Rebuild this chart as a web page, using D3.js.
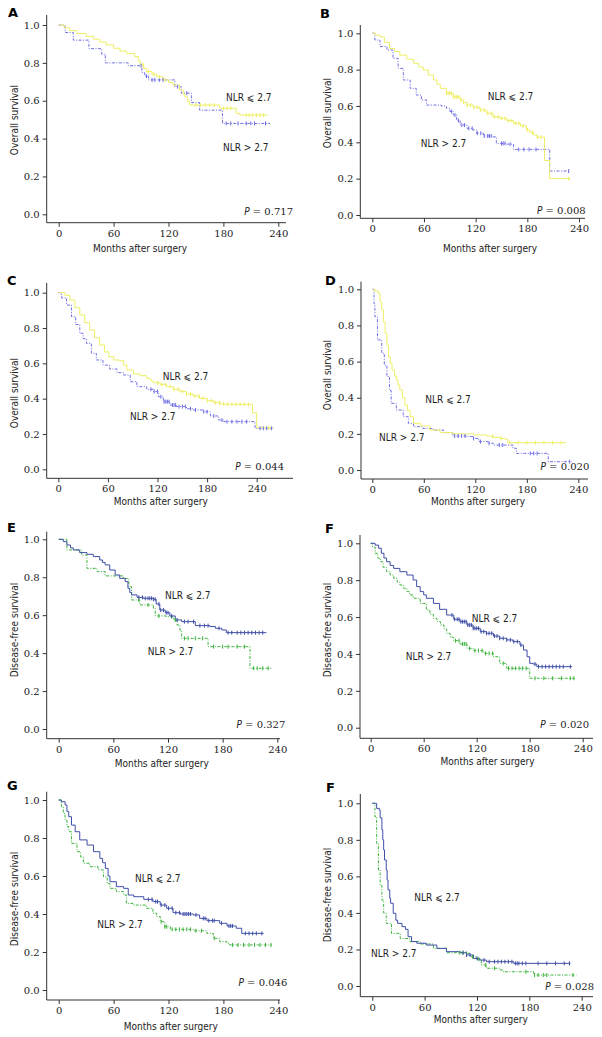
<!DOCTYPE html>
<html><head><meta charset="utf-8">
<script src="https://cdn.jsdelivr.net/npm/d3@7/dist/d3.min.js"></script>
<style>body{margin:0;background:#fff}svg{display:block}</style>
</head><body>
<script>
// ---------- DATA ----------
const xTicks = [0, 60, 120, 180, 240];
const yTicks = [0, 0.2, 0.4, 0.6, 0.8, 1.0];
const labelLow = "NLR \u2A7D 2.7";
const labelHigh = "NLR > 2.7";
const panelLetters = ["A", "B", "C", "D", "E", "F", "G", "F"];
const yTitles = ["Overall survival", "Overall survival", "Overall survival", "Overall survival",
  "Disease-free survival", "Disease-free survival", "Disease-free survival", "Disease-free survival"];
const xTitle = "Months after surgery";
const pValues = ["0.717", "0.008", "0.044", "0.020", "0.327", "0.020", "0.046", "0.028"];

// [month, survival] steps ; censor months
const A_low = [[0,1],[6,0.985],[12,0.97],[20,0.955],[30,0.94],[38,0.925],[45,0.91],[52,0.895],[60,0.877],[67,0.862],[74,0.85],[83,0.833],[87,0.81],[89,0.79],[93,0.77],[96,0.754],[102,0.74],[107,0.727],[114,0.71],[120,0.697],[125,0.683],[132,0.657],[136,0.635],[138,0.62],[141,0.595],[143,0.577],[176,0.56],[194,0.533],[198,0.524],[228,0.524]];
const A_lowCens = [92,98,104,110,116,150,155,160,165,170,180,184,188,205,208,212,216,220,224];
const A_high = [[0,1],[7,0.96],[16,0.92],[33,0.875],[47,0.845],[51,0.8],[76,0.785],[91,0.75],[94,0.73],[98,0.71],[127,0.674],[134,0.64],[145,0.59],[154,0.55],[179,0.48],[231,0.48]];
const A_highCens = [90,96,102,105,110,114,130,140,183,188,196,205,210,214,226];

const B_low = [[0,1],[4,0.99],[9,0.98],[14,0.95],[20,0.917],[26,0.9],[32,0.88],[40,0.857],[48,0.835],[54,0.815],[59,0.798],[65,0.77],[71,0.743],[75,0.72],[79,0.697],[86,0.67],[94,0.65],[102,0.633],[106,0.62],[110,0.605],[117,0.593],[125,0.578],[133,0.56],[140,0.54],[148,0.532],[156,0.52],[164,0.505],[172,0.49],[179,0.468],[183,0.455],[187,0.44],[191,0.428],[200,0.3],[206,0.2],[230,0.2]];
const B_lowCens = [86,88,90,92,94,96,98,100,103,106,110,114,118,122,126,130,134,138,142,146,150,154,158,162,166,170,175,180,186,192,196,228];
const B_high = [[0,1],[3,0.963],[9,0.927],[17,0.908],[24,0.862],[30,0.807],[36,0.743],[44,0.697],[51,0.66],[57,0.633],[63,0.605],[80,0.6],[86,0.587],[90,0.57],[94,0.55],[98,0.52],[102,0.495],[110,0.477],[117,0.468],[121,0.45],[129,0.435],[140,0.43],[144,0.394],[156,0.39],[164,0.361],[206,0.242],[230,0.242]];
const B_highCens = [92,96,100,104,107,112,116,122,126,130,134,136,138,150,152,154,160,170,176,182,190,228];

const C_low = [[0,1],[8,0.985],[14,0.958],[20,0.915],[26,0.874],[32,0.83],[38,0.789],[44,0.745],[50,0.704],[56,0.665],[61,0.638],[67,0.619],[74,0.615],[79,0.59],[83,0.562],[91,0.54],[99,0.53],[107,0.515],[112,0.5],[115,0.49],[123,0.481],[131,0.468],[139,0.453],[147,0.44],[155,0.426],[163,0.415],[171,0.402],[180,0.389],[188,0.377],[196,0.37],[203,0.368],[235,0.32],[240,0.235],[260,0.235]];
const C_lowCens = [120,125,130,135,140,145,150,155,160,165,170,175,180,185,190,195,200,205,210,215,220,225,230,255];
const C_high = [[0,1],[4,0.97],[10,0.93],[16,0.864],[21,0.82],[26,0.77],[30,0.74],[34,0.713],[40,0.657],[46,0.619],[54,0.59],[62,0.568],[71,0.547],[79,0.534],[87,0.496],[95,0.468],[107,0.453],[115,0.44],[121,0.411],[127,0.383],[135,0.364],[143,0.355],[155,0.343],[163,0.336],[175,0.326],[184,0.302],[194,0.279],[200,0.27],[238,0.232],[260,0.232]];
const C_highCens = [112,116,120,124,128,130,132,134,138,140,142,146,150,154,160,166,176,180,188,198,204,210,216,222,228,244,248,252,258];

const D_low = [[0,1],[3,0.99],[7,0.978],[9,0.93],[11,0.886],[13,0.82],[15,0.756],[17,0.69],[19,0.627],[21,0.59],[23,0.553],[26,0.52],[28,0.498],[30,0.47],[32,0.443],[35,0.4],[38,0.36],[41,0.33],[44,0.295],[48,0.258],[56,0.244],[67,0.221],[79,0.207],[94,0.2],[118,0.194],[133,0.188],[141,0.181],[149,0.175],[155,0.17],[158,0.151],[226,0.151]];
const D_lowCens = [140,150,160,170,180,190,200,210,220];
const D_high = [[0,1],[2,0.92],[3,0.849],[6,0.72],[11,0.646],[14,0.58],[17,0.517],[20,0.44],[22,0.369],[28,0.332],[36,0.295],[42,0.258],[48,0.24],[59,0.23],[71,0.221],[83,0.207],[94,0.188],[110,0.185],[118,0.175],[124,0.157],[135,0.148],[141,0.138],[164,0.12],[168,0.092],[205,0.046],[232,0.046]];
const D_highCens = [96,100,104,108,118,126,136,148,152,184,188,192,230];

const E_low = [[0,1],[2,1],[5,0.988],[9,0.97],[13,0.955],[16,0.944],[23,0.93],[31,0.921],[38,0.909],[45,0.891],[48,0.878],[51,0.865],[56,0.838],[62,0.812],[67,0.794],[73,0.777],[76,0.742],[78,0.72],[80,0.707],[86,0.694],[93,0.689],[104,0.684],[107,0.659],[111,0.627],[117,0.613],[122,0.596],[128,0.575],[135,0.566],[150,0.545],[166,0.54],[172,0.531],[179,0.522],[184,0.508],[228,0.508]];
const E_lowCens = [88,92,95,98,100,102,104,106,110,112,115,118,120,124,130,138,142,148,155,160,164,176,186,190,196,200,204,208,212,216,220,224];
const E_high = [[0,1],[9,0.944],[25,0.917],[31,0.847],[42,0.83],[51,0.807],[71,0.794],[77,0.75],[80,0.68],[89,0.654],[104,0.636],[106,0.596],[118,0.592],[126,0.575],[130,0.548],[133,0.522],[135,0.478],[164,0.434],[210,0.32],[234,0.32]];
const E_highCens = [88,98,110,124,128,138,142,150,158,170,180,186,196,204,214,218,224,230];

const F_low = [[0,1],[5,0.99],[9,0.973],[12,0.946],[15,0.92],[18,0.9],[22,0.88],[26,0.864],[33,0.846],[41,0.828],[48,0.801],[52,0.765],[56,0.738],[60,0.72],[63,0.702],[71,0.674],[78,0.642],[86,0.611],[94,0.588],[101,0.575],[109,0.557],[116,0.539],[124,0.521],[131,0.512],[139,0.497],[146,0.485],[154,0.476],[161,0.467],[169,0.448],[173,0.421],[177,0.385],[180,0.349],[184,0.345],[188,0.331],[228,0.331]];
const F_lowCens = [92,95,98,100,102,104,106,108,110,112,114,116,118,120,122,125,128,131,134,137,140,143,146,150,154,158,162,166,170,186,190,194,198,202,206,210,214,218,226];
const F_high = [[0,1],[2,0.98],[5,0.946],[8,0.92],[11,0.9],[14,0.87],[18,0.846],[22,0.828],[26,0.81],[30,0.79],[33,0.774],[37,0.756],[41,0.738],[44,0.72],[48,0.702],[56,0.674],[63,0.638],[67,0.615],[71,0.593],[75,0.575],[79,0.557],[83,0.535],[86,0.512],[90,0.49],[94,0.472],[101,0.454],[109,0.43],[116,0.418],[128,0.403],[139,0.385],[146,0.349],[154,0.322],[180,0.268],[231,0.268]];
const F_highCens = [96,100,104,106,108,112,118,122,126,130,134,138,150,156,160,164,168,172,176,186,196,206,216,226,230];

const G_low = [[0,1],[3,0.991],[7,0.974],[9,0.94],[11,0.912],[14,0.868],[18,0.833],[23,0.79],[31,0.763],[38,0.728],[45,0.693],[48,0.67],[51,0.64],[54,0.6],[56,0.57],[63,0.544],[71,0.535],[76,0.5],[82,0.491],[93,0.477],[103,0.465],[111,0.447],[118,0.43],[125,0.407],[133,0.4],[147,0.395],[154,0.377],[162,0.365],[176,0.351],[184,0.337],[194,0.325],[200,0.298],[224,0.298]];
const G_lowCens = [98,102,106,108,112,116,120,124,128,132,136,138,140,142,144,150,158,160,164,168,170,178,186,188,190,204,208,212,216,222];
const G_high = [[0,1],[3,0.965],[5,0.93],[7,0.895],[9,0.86],[11,0.833],[14,0.772],[20,0.728],[24,0.7],[27,0.667],[34,0.649],[43,0.632],[49,0.596],[53,0.56],[56,0.535],[63,0.518],[71,0.5],[74,0.456],[82,0.447],[96,0.43],[103,0.404],[107,0.386],[111,0.36],[116,0.333],[122,0.319],[147,0.312],[162,0.298],[169,0.272],[176,0.254],[184,0.246],[187,0.237],[233,0.237]];
const G_highCens = [112,116,118,124,128,132,136,140,144,150,156,170,190,196,202,208,214,220,226,232];

const H_low = [[0,1],[1,1],[5,0.972],[8,0.963],[9,0.92],[11,0.854],[12,0.8],[13,0.745],[14,0.69],[16,0.635],[17,0.58],[18,0.526],[20,0.48],[21,0.453],[24,0.398],[27,0.36],[29,0.343],[34,0.325],[38,0.31],[41,0.27],[45,0.243],[51,0.234],[62,0.224],[74,0.206],[85,0.188],[101,0.182],[108,0.17],[116,0.151],[123,0.142],[131,0.133],[162,0.124],[227,0.124]];
const H_lowCens = [104,108,112,120,128,134,140,144,148,152,156,160,164,166,168,172,176,190,200,210,220,226];
const H_high = [[0,1],[1,1],[3,0.927],[5,0.78],[7,0.635],[9,0.55],[11,0.47],[13,0.4],[16,0.343],[22,0.288],[32,0.26],[43,0.243],[55,0.23],[70,0.206],[85,0.182],[108,0.179],[112,0.16],[120,0.146],[125,0.115],[131,0.097],[146,0.088],[150,0.078],[185,0.06],[234,0.06]];
const H_highCens = [100,104,108,115,122,130,140,176,186,190,196,200,230];

// ---------- LAYOUT ----------
const W = 602, H = 1037;
const layout = [
  {letter:[8,17],  px:[58.7,278.3], py:[214.3,25],   ax:46.7, ay:222.7, yTop:15,    xEnd:286, yt:[14,120],  xt:[140,251.5], le:[226,101],   gt:[223,151],   p:[293,215]},
  {letter:[320,18],px:[372.3,579],  py:[215,33.3],   ax:360.3,ay:218.3, yTop:25,    xEnd:585, yt:[327,113], xt:[490,252],   le:[487.7,100], gt:[420.7,147], p:[585.7,214]},
  {letter:[7,285], px:[58.3,256.7], py:[469.3,292.7],ax:46.7, ay:478.3, yTop:283,   xEnd:293, yt:[14,393],  xt:[160.8,505], le:[162.7,380], gt:[130,420],   p:[284,469.5]},
  {letter:[325,285],px:[372.3,578.3],py:[470,289.3], ax:361,  ay:479,   yTop:281.7, xEnd:588, yt:[327,375], xt:[478,504.7], le:[425.3,403], gt:[379,441],   p:[589.3,469.5]},
  {letter:[7,531.7],px:[58.7,277.3],py:[729,539.3],  ax:46.7, ay:738.7, yTop:531.7, xEnd:280, yt:[14,630],  xt:[161.7,766.7],le:[165,599],  gt:[147.7,655], p:[285.3,727.5]},
  {letter:[325,533],px:[370.7,582.7],py:[727.7,543.3],ax:360, ay:738.3, yTop:535,   xEnd:593, yt:[327,630], xt:[487.5,764.7],le:[471.7,621.5],gt:[405.7,659.5],p:[589,727.5]},
  {letter:[7,790], px:[58.7,278.3], py:[990,800],    ax:46.7, ay:1000,  yTop:791.7, xEnd:280, yt:[14,899],  xt:[170.8,1030],le:[135,881.5], gt:[97.3,928],  p:[287.3,986]},
  {letter:[326,791.7],px:[372.3,581.7],py:[986,803.3],ax:360.3,ay:996.7,yTop:794,   xEnd:593, yt:[327,895], xt:[480.8,1023],le:[414.3,901], gt:[371,956.5], p:[594,989.5]}
];
const curves = [
  [A_low,A_lowCens,A_high,A_highCens],[B_low,B_lowCens,B_high,B_highCens],
  [C_low,C_lowCens,C_high,C_highCens],[D_low,D_lowCens,D_high,D_highCens],
  [E_low,E_lowCens,E_high,E_highCens],[F_low,F_lowCens,F_high,F_highCens],
  [G_low,G_lowCens,G_high,G_highCens],[H_low,H_lowCens,H_high,H_highCens]
];
const osColors = {low:"#eeee66", high:"#6f6fe6"};
const dfsColors = {low:"#3f4fa8", high:"#3db43d"};

const svg = d3.select("body").append("svg").attr("width", W).attr("height", H);
const sans = "'DejaVu Sans Condensed','DejaVu Sans',sans-serif";
const serif = "'DejaVu Serif',serif";

function survAt(steps, t) {
  let s = steps[0][1];
  for (const [tt, ss] of steps) { if (tt <= t) s = ss; else break; }
  return s;
}

layout.forEach((L, i) => {
  const g = svg.append("g");
  const x = d3.scaleLinear().domain([0, 240]).range(L.px);
  const y = d3.scaleLinear().domain([0, 1]).range(L.py);
  const cols = i < 4 ? osColors : dfsColors;

  // axis lines
  g.append("line").attr("x1", L.ax).attr("x2", L.ax).attr("y1", L.yTop).attr("y2", L.ay)
    .attr("stroke", "#333").attr("stroke-width", 1);
  g.append("line").attr("x1", L.ax).attr("x2", L.xEnd).attr("y1", L.ay).attr("y2", L.ay)
    .attr("stroke", "#333").attr("stroke-width", 1);

  const xa = g.append("g").attr("transform", `translate(0,${L.ay})`)
    .call(d3.axisBottom(x).tickValues(xTicks).tickSize(4).tickPadding(3).tickFormat(d3.format("d")));
  xa.select(".domain").remove();
  xa.selectAll("line").attr("stroke", "#333");
  xa.selectAll("text").attr("font-family", serif).attr("font-size", 10).attr("fill", "#222");

  const ya = g.append("g").attr("transform", `translate(${L.ax},0)`)
    .call(d3.axisLeft(y).tickValues(yTicks).tickSize(4).tickPadding(3).tickFormat(d3.format(".1f")));
  ya.select(".domain").remove();
  ya.selectAll("line").attr("stroke", "#333");
  ya.selectAll("text").attr("font-family", serif).attr("font-size", 10).attr("fill", "#222");

  const line = d3.line().curve(d3.curveStepAfter).x(d => x(d[0])).y(d => y(d[1]));
  const [low, lowC, high, highC] = curves[i];

  // high (dashed) first, low on top
  g.append("path").datum(high).attr("d", line).attr("fill", "none")
    .attr("stroke", cols.high).attr("stroke-width", 1).attr("stroke-dasharray", "3,1.5,1,1.5");
  g.append("path").datum(low).attr("d", line).attr("fill", "none")
    .attr("stroke", cols.low).attr("stroke-width", 1);

  [[highC, high, cols.high], [lowC, low, cols.low]].forEach(([cens, steps, c]) => {
    g.selectAll(null).data(cens).enter().append("line")
      .attr("x1", d => x(d)).attr("x2", d => x(d))
      .attr("y1", d => y(survAt(steps, d)) - 2).attr("y2", d => y(survAt(steps, d)) + 2)
      .attr("stroke", c).attr("stroke-width", 1);
  });

  // texts
  g.append("text").attr("x", L.letter[0]).attr("y", L.letter[1]).text(panelLetters[i])
    .attr("font-family", "'DejaVu Sans',sans-serif").attr("font-weight", "bold").attr("font-size", 13);
  g.append("text").attr("transform", `translate(${L.yt[0]},${L.yt[1]}) rotate(-90)`)
    .attr("text-anchor", "middle").attr("dominant-baseline", "central")
    .attr("font-family", sans).attr("font-size", 10).attr("fill", "#222").text(yTitles[i]);
  g.append("text").attr("x", L.xt[0]).attr("y", L.xt[1]).attr("text-anchor", "middle")
    .attr("font-family", sans).attr("font-size", 10).attr("fill", "#222").text(xTitle);
  g.append("text").attr("x", L.le[0]).attr("y", L.le[1])
    .attr("font-family", sans).attr("font-size", 10).attr("fill", "#222").text(labelLow);
  g.append("text").attr("x", L.gt[0]).attr("y", L.gt[1])
    .attr("font-family", sans).attr("font-size", 10).attr("fill", "#222").text(labelHigh);
  const pt = g.append("text").attr("x", L.p[0]).attr("y", L.p[1]).attr("text-anchor", "end")
    .attr("font-family", serif).attr("font-size", 10).attr("fill", "#222");
  pt.append("tspan").attr("font-style", "italic").attr("font-family", sans).text("P");
  pt.append("tspan").text(" = " + pValues[i]);
});
</script>
</body></html>
